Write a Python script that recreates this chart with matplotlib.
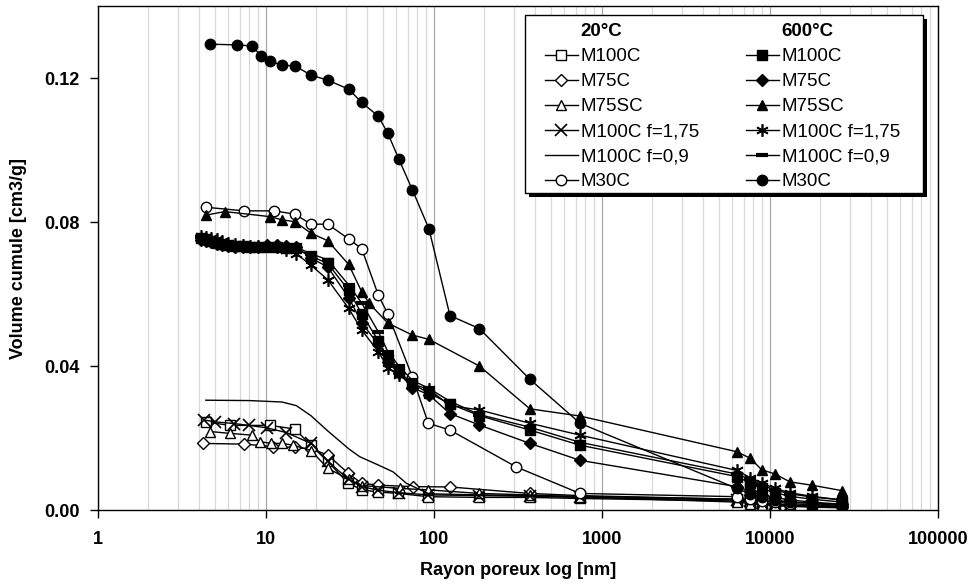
import matplotlib
matplotlib.use("Agg")
import matplotlib.pyplot as plt
from matplotlib.lines import Line2D
from matplotlib.patches import Rectangle
from matplotlib.ticker import FixedLocator, FuncFormatter, LogLocator, NullFormatter

plt.rcParams["font.family"] = ["Liberation Sans", "DejaVu Sans"]

# pore radius (nm) of the dense 600 °C runs
x_600 = [4.1, 4.4, 4.7, 5.1, 5.5, 6.0, 6.6, 7.3, 8.1, 9.0, 10.2, 11.6, 13.3, 15.2,
         18.6, 23.4, 31.2, 37.3, 46.8, 53.4, 62.1, 74.6, 93.7, 125, 187, 374, 743,
         6360, 7640, 8960, 10760, 13220, 17780, 26840]
m100c_600 = [0.0755, 0.0752, 0.0748, 0.0742, 0.0738, 0.0735, 0.0733, 0.0732, 0.0731,
             0.0731, 0.0731, 0.0730, 0.0728, 0.0727, 0.0705, 0.0685, 0.0610, 0.0545,
             0.0470, 0.0420, 0.0385, 0.0350, 0.0325, 0.0295, 0.0262, 0.0222, 0.0180,
             0.0093, 0.0075, 0.0060, 0.0048, 0.0038, 0.0030, 0.0022]
m75c_600 = [0.0750, 0.0748, 0.0745, 0.0740, 0.0735, 0.0732, 0.0730, 0.0730, 0.0730,
            0.0731, 0.0735, 0.0735, 0.0733, 0.0730, 0.0700, 0.0675, 0.0590, 0.0520,
            0.0460, 0.0410, 0.0380, 0.0340, 0.0320, 0.0268, 0.0236, 0.0185, 0.0138,
            0.0065, 0.0052, 0.0042, 0.0035, 0.0028, 0.0022, 0.0016]
m100c_f175_600 = [0.0760, 0.0758, 0.0755, 0.0752, 0.0748, 0.0742, 0.0738, 0.0735, 0.0734,
                  0.0733, 0.0732, 0.0730, 0.0722, 0.0712, 0.0680, 0.0640, 0.0560, 0.0500,
                  0.0440, 0.0395, 0.0375, 0.0350, 0.0335, 0.0290, 0.0278, 0.0241, 0.0208,
                  0.0110, 0.0090, 0.0075, 0.0060, 0.0048, 0.0038, 0.0028]
m100c_f09_600 = [0.0758, 0.0756, 0.0752, 0.0748, 0.0744, 0.0740, 0.0738, 0.0737, 0.0736,
                 0.0735, 0.0735, 0.0734, 0.0732, 0.0730, 0.0712, 0.0695, 0.0625, 0.0575,
                 0.0495, 0.0440, 0.0400, 0.0360, 0.0338, 0.0302, 0.0265, 0.0230, 0.0188,
                 0.0100, 0.0085, 0.0070, 0.0055, 0.0045, 0.0036, 0.0028]

x_m75sc_600 = [4.4, 5.7, 10.6, 12.5, 14.9, 18.6, 23.4, 31.2, 37.3, 41.3, 53.4, 74.6, 93.7,
               187, 374, 743, 6360, 7640, 8960, 10760, 13220, 17780, 26840]
m75sc_600 = [0.0819, 0.0829, 0.0815, 0.0806, 0.0801, 0.0769, 0.0748, 0.0682, 0.0606,
             0.0574, 0.0519, 0.0486, 0.0474, 0.0400, 0.0281, 0.0261, 0.0162, 0.0144,
             0.0112, 0.0100, 0.0078, 0.0069, 0.0054]

x_m30c_600 = [4.66, 6.78, 8.32, 9.34, 10.6, 12.5, 14.9, 18.6, 23.4, 31.2, 37.3, 46.8, 53.4,
              62.1, 74.6, 93.7, 125, 187, 374, 743, 6360, 7640, 8960, 10760, 13220, 17780,
              26840]
m30c_600 = [0.1294, 0.1292, 0.1289, 0.1262, 0.1248, 0.1235, 0.1234, 0.1208, 0.1194,
            0.1169, 0.1132, 0.1094, 0.1046, 0.0974, 0.0890, 0.0781, 0.0540, 0.0504,
            0.0363, 0.0241, 0.0060, 0.0045, 0.0035, 0.0028, 0.0022, 0.0018, 0.0012]

# 20 °C runs
x_m30c_20 = [4.39, 7.46, 11.2, 14.9, 18.6, 23.4, 31.2, 37.3, 46.8, 53.4, 74.6, 92.9, 125,
             309, 743, 6360, 7640, 8960, 10760, 13220, 17780, 26840]
m30c_20 = [0.0841, 0.0831, 0.0831, 0.0822, 0.0794, 0.0794, 0.0753, 0.0726, 0.0597,
           0.0544, 0.0370, 0.0241, 0.0222, 0.0120, 0.0046, 0.0037, 0.0030, 0.0026,
           0.0022, 0.0018, 0.0014, 0.0010]

x_m100c_20 = [4.4, 6.1, 10.6, 14.9, 18.6, 23.4, 30.7, 37.3, 46.8, 61.6, 92.8, 187, 374,
              743, 6360, 7640, 8960, 10760, 13220, 17780, 26840]
m100c_20 = [0.0245, 0.0235, 0.0235, 0.0225, 0.0180, 0.0135, 0.0076, 0.0056, 0.0050,
            0.0046, 0.0037, 0.0035, 0.0035, 0.0032, 0.0025, 0.0022, 0.0019, 0.0016,
            0.0013, 0.0010, 0.0008]

x_m75c_20 = [4.21, 7.46, 11.1, 14.9, 18.6, 23.4, 31.0, 37.3, 46.8, 75, 125, 374, 743,
             6360, 7640, 8960, 10760, 13220, 17780, 26840]
m75c_20 = [0.0185, 0.0183, 0.0176, 0.0174, 0.0170, 0.0153, 0.0102, 0.0074, 0.0069,
           0.0065, 0.0064, 0.0046, 0.0040, 0.0030, 0.0025, 0.0020, 0.0015, 0.0012,
           0.0010, 0.0007]

x_m75sc_20 = [4.66, 6.1, 8.25, 9.2, 10.8, 12.5, 14.6, 18.6, 23.4, 31.2, 37.3, 63, 92.8,
              187, 374, 743, 6360, 7640, 8960, 10760, 13220, 17780, 26840]
m75sc_20 = [0.0218, 0.0213, 0.0208, 0.0190, 0.0185, 0.0185, 0.0180, 0.0165, 0.0116,
            0.0085, 0.0068, 0.0060, 0.0056, 0.0046, 0.0042, 0.0036, 0.0022, 0.0018,
            0.0015, 0.0012, 0.0010, 0.0008, 0.0006]

x_m100c_f175_20 = [4.3, 5.0, 6.5, 8.0, 10.2, 13.3, 18.6, 23.4, 31.2, 37.3, 46.8, 62, 93,
                   187, 374, 743, 6360, 7640, 8960, 10760, 13220, 17780, 26840]
m100c_f175_20 = [0.0250, 0.0245, 0.0240, 0.0235, 0.0228, 0.0215, 0.0185, 0.0135, 0.0085,
                 0.0065, 0.0055, 0.0048, 0.0042, 0.0040, 0.0038, 0.0035, 0.0028, 0.0024,
                 0.0020, 0.0017, 0.0014, 0.0011, 0.0009]

x_m100c_f09_20 = [4.4, 8.0, 12.5, 15.2, 18.6, 23.1, 31.2, 36.3, 46.8, 57.3, 68.9, 93.7,
                  187, 374, 743, 6360, 26840]
m100c_f09_20 = [0.0305, 0.0304, 0.0300, 0.0290, 0.0262, 0.0222, 0.0170, 0.0148, 0.0125,
                0.0106, 0.0074, 0.0045, 0.0042, 0.0040, 0.0038, 0.0030, 0.0015]

labels = ["M100C", "M75C", "M75SC", "M100C f=1,75", "M100C f=0,9", "M30C"]
y_ticks = [0.0, 0.04, 0.08, 0.12]
x_ticks = [1, 10, 100, 1000, 10000, 100000]

asterisk = (6, 2, 0)
series_20 = [
    (x_m100c_20, m100c_20, dict(marker="s", mfc="white", ms=6.5)),
    (x_m75c_20, m75c_20, dict(marker="D", mfc="white", ms=6.5)),
    (x_m75sc_20, m75sc_20, dict(marker="^", mfc="white", ms=7.5)),
    (x_m100c_f175_20, m100c_f175_20, dict(marker="x", ms=8, mew=1.2)),
    (x_m100c_f09_20, m100c_f09_20, dict(marker="None")),
    (x_m30c_20, m30c_20, dict(marker="o", mfc="white", ms=7.5)),
]
series_600 = [
    (x_600, m100c_600, dict(marker="s", mfc="black", ms=6.5)),
    (x_600, m75c_600, dict(marker="D", mfc="black", ms=6.5)),
    (x_m75sc_600, m75sc_600, dict(marker="^", mfc="black", ms=7.5)),
    (x_600, m100c_f175_600, dict(marker=asterisk, ms=9, mew=1.2)),
    (x_600, m100c_f09_600, dict(marker="_", ms=9, mew=3)),
    (x_m30c_600, m30c_600, dict(marker="o", mfc="black", ms=7.5)),
]

W, H = 972, 584
fig = plt.figure(figsize=(W / 100, H / 100), dpi=100)
ax = fig.add_axes([0.1005, 0.1267, 0.8642, 0.8630])

handles_20, handles_600 = [], []
for (x, y, style), lab in zip(series_20, labels):
    h, = ax.plot(x, y, color="black", lw=1.0, mec="black", label=lab, **style)
    handles_20.append(h)
for (x, y, style), lab in zip(series_600, labels):
    h, = ax.plot(x, y, color="black", lw=1.0, mec="black", label=lab, **style)
    handles_600.append(h)

ax.set_xscale("log")
ax.set_xlim(1, 100000)
ax.set_ylim(0, 0.14)
ax.xaxis.set_major_locator(FixedLocator(x_ticks))
ax.xaxis.set_major_formatter(FuncFormatter(lambda v, p: f"{v:.0f}"))
ax.xaxis.set_minor_locator(LogLocator(base=10, subs=range(2, 10)))
ax.xaxis.set_minor_formatter(NullFormatter())
ax.yaxis.set_major_locator(FixedLocator(y_ticks))
ax.yaxis.set_major_formatter(FuncFormatter(lambda v, p: f"{v:.2f}"))

ax.grid(True, which="minor", axis="x", color="#d8d8d8", lw=0.9)
ax.grid(True, which="major", axis="x", color="#a8a8a8", lw=0.9)
ax.set_axisbelow(True)
ax.tick_params(axis="x", which="minor", length=0)
ax.tick_params(axis="x", which="major", length=6, width=1, pad=9, labelsize=13)
ax.tick_params(axis="y", length=6, width=1, pad=7, labelsize=13)
for t in ax.get_xticklabels() + ax.get_yticklabels():
    t.set_fontweight("bold")
for s in ax.spines.values():
    s.set_linewidth(1.0)

ax.set_xlabel("Rayon poreux log [nm]", fontsize=13, fontweight="bold", labelpad=10)
ax.set_ylabel("Volume cumule [cm3/g]", fontsize=13, fontweight="bold", labelpad=12)

# legend frame with a solid drop shadow, drawn by hand
bx0, bx1, by0, by1 = 525, 923, 15, 193
shadow = Rectangle((bx0 + 4, H - by1 - 4), bx1 - bx0, by1 - by0, transform=None,
                   facecolor="black", edgecolor="none", zorder=6)
frame = Rectangle((bx0, H - by1), bx1 - bx0, by1 - by0, transform=None,
                  facecolor="white", edgecolor="black", lw=1.0, zorder=6.5)
fig.patches.extend([shadow, frame])

blank = Line2D([], [], linestyle="None", marker="None")
handles = [blank] + handles_20 + [blank] + handles_600
leg_labels = ["20°C"] + labels + ["600°C"] + labels
leg = fig.legend(handles, leg_labels, ncol=2, loc="upper left",
                 bbox_to_anchor=(545 / W, 1 - 23 / H), borderaxespad=0, borderpad=0,
                 fontsize=13.5, handlelength=1.75, handletextpad=0.16,
                 labelspacing=0.42, columnspacing=2.5, frameon=False)
leg.set_zorder(7)
for t in leg.get_texts():
    if t.get_text().endswith("°C"):
        t.set_fontweight("bold")

fig.savefig("out.png", dpi=100)
